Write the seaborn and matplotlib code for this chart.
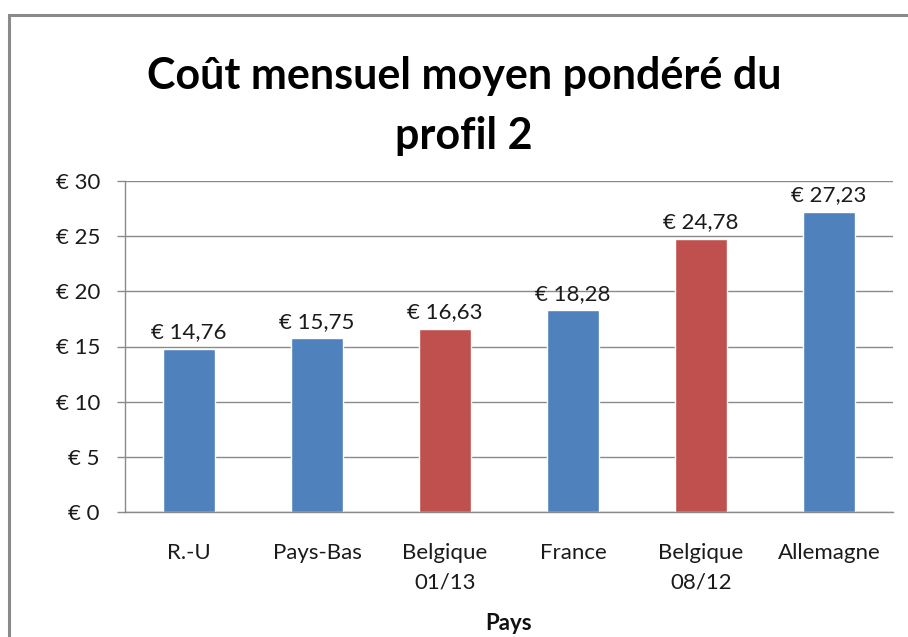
import matplotlib
matplotlib.use("Agg")
import matplotlib.pyplot as plt
import seaborn as sns
import pandas as pd
import numpy as np
from matplotlib.patches import Rectangle

categories = ["R.-U", "Pays-Bas", "Belgique\n01/13", "France", "Belgique\n08/12", "Allemagne"]
values = [14.76, 15.75, 16.63, 18.28, 24.78, 27.23]
colors = ["#4F81BD", "#4F81BD", "#C0504D", "#4F81BD", "#C0504D", "#4F81BD"]
yticks = [0, 5, 10, 15, 20, 25, 30]
title = "Coût mensuel moyen pondéré du\nprofil 2"
xlabel = "Pays"

sns.set_theme(style="white")
plt.rcParams['font.family'] = ['Lato', 'DejaVu Sans']

W, H = 908, 637
fig = plt.figure(figsize=(W / 100, H / 100), dpi=100)
fig.patch.set_facecolor("white")

# chart border
fig.add_artist(Rectangle((9 / W, -0.1), 1.2, 1 - 15 / H + 0.1, transform=fig.transFigure,
                         fill=False, edgecolor="#8A8A8A", linewidth=2.2))

ax = fig.add_axes([125 / W, (H - 512) / H, (893 - 125) / W, (512 - 181) / H])
df = pd.DataFrame({"cat": categories, "val": values})
sns.barplot(data=df, x="cat", y="val", hue="cat", palette=colors, legend=False,
            width=0.4, ax=ax, saturation=1)

ax.set_ylim(0, 30)
ax.set_xlim(-0.5, len(categories) - 0.5)
ax.set_yticks(yticks)
ax.set_yticklabels([f"€ {v}" for v in yticks], fontsize=16, color="#1A1A1A")
ax.set_xticks(range(len(categories)))
ax.set_xticklabels(categories, fontsize=16, color="#1A1A1A", linespacing=1.6)
ax.set_xticks(np.arange(-0.5, len(categories)), minor=True)
ax.tick_params(axis="x", which="major", length=0, pad=22)
ax.tick_params(axis="x", which="minor", length=6, width=1, color="#8A8A8A", direction="out")
ax.tick_params(axis="y", length=6, width=1, color="#8A8A8A", direction="out", left=True, pad=12)
ax.yaxis.grid(True, color="#8A8A8A", linewidth=1)
ax.set_axisbelow(True)
for s in ["top", "right"]:
    ax.spines[s].set_visible(False)
for s in ["left", "bottom"]:
    ax.spines[s].set_color("#8A8A8A")
    ax.spines[s].set_linewidth(1)

for i, v in enumerate(values):
    ax.text(i, v + 0.6, f"€ {v:.2f}".replace(".", ","), ha="center", va="bottom",
            fontsize=16, color="#1A1A1A")

ax.set_xlabel(xlabel, fontsize=16, fontweight="bold", labelpad=15, color="#111111")
ax.set_ylabel("")
fig.text(464 / W, 1 - 106 / H, title, ha="center", va="center",
         fontsize=31, fontweight="bold", linespacing=1.6, color="#000000")

fig.savefig("out.png", dpi=100)
